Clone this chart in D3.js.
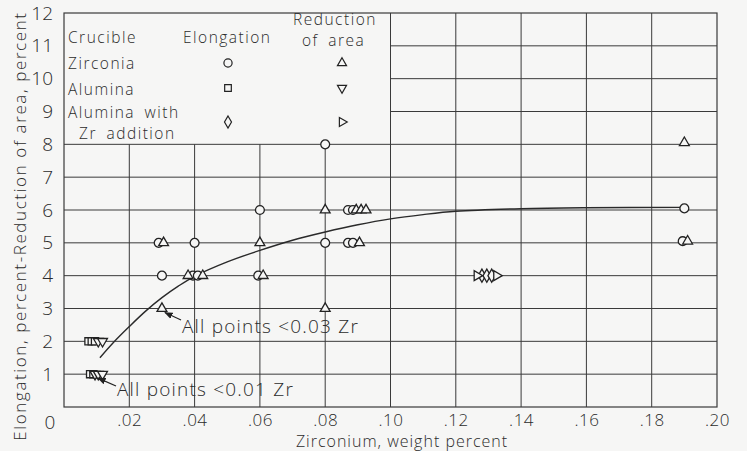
<!DOCTYPE html>
<html>
<head>
<meta charset="utf-8">
<script src="https://cdn.jsdelivr.net/npm/d3@7"></script>
<style>
  body { margin: 0; background: #f6f6f5; }
  text { font-family: "Open Sans", "DejaVu Sans", sans-serif; font-weight: 300; fill: #2b2b2b; }
</style>
</head>
<body>
<script>
// values (x = Zr weight fraction, y = percent)
var xTicks = [0.02, 0.04, 0.06, 0.08, 0.10, 0.12, 0.14, 0.16, 0.18, 0.20];
var yTicks = [1, 2, 3, 4, 5, 6, 7, 8, 9, 10, 11, 12];

var zirconiaElong = [[0.029, 5], [0.04, 5], [0.03, 4], [0.0395, 4], [0.041, 4], [0.06, 6],
    [0.0595, 4], [0.08, 8], [0.08, 5], [0.087, 6], [0.0885, 6], [0.087, 5], [0.0885, 5],
    [0.19, 6.05], [0.1895, 5.05]];
var zirconiaRA = [[0.0305, 5], [0.038, 4], [0.0425, 4], [0.06, 5], [0.061, 4], [0.03, 3],
    [0.08, 6], [0.08, 3], [0.0895, 6], [0.091, 6], [0.0925, 6], [0.0905, 5], [0.19, 8.05], [0.191, 5.05]];
var aluminaElong = [[0.0075, 2], [0.0085, 2], [0.0095, 2], [0.008, 1], [0.009, 1]];
var aluminaRA = [[0.0105, 2], [0.0118, 2], [0.0095, 1], [0.0105, 1], [0.0118, 1]];
var zrAddElong = [[0.128, 4], [0.1295, 4], [0.131, 4]];
var zrAddRA = [[0.1265, 4], [0.1325, 4]];

var curvePts = [[0.011, 1.5], [0.015, 1.95], [0.02, 2.45], [0.025, 2.92], [0.03, 3.33], [0.035, 3.68],
    [0.04, 3.98], [0.05, 4.42], [0.06, 4.77], [0.07, 5.08], [0.08, 5.33], [0.09, 5.55], [0.10, 5.73],
    [0.11, 5.86], [0.12, 5.96], [0.14, 6.04], [0.16, 6.07], [0.19, 6.08]];

var width = 747;
var height = 451;

var svg = d3.select("body").append("svg")
    .attr("width", width)
    .attr("height", height);

var x = d3.scaleLinear().domain([0, 0.2]).range([64, 717]);
var y = d3.scaleLinear().domain([0, 12]).range([407, 13]);

var ink = "#3a3a3a";

/*****************  Grid (blank where the legend sits) **********************/

var grid = svg.append("g").attr("stroke", ink).attr("stroke-width", 1);

grid.selectAll(".vline")
    .data(xTicks.slice(0, 9))
    .enter()
    .append("line")
    .attr("x1", function (d) { return x(d); })
    .attr("x2", function (d) { return x(d); })
    .attr("y1", y(0))
    .attr("y2", function (d) { return d < 0.09 ? y(8) : y(12); });

grid.selectAll(".hline")
    .data(yTicks.slice(0, 11))
    .enter()
    .append("line")
    .attr("y1", function (d) { return y(d); })
    .attr("y2", function (d) { return y(d); })
    .attr("x1", function (d) { return d > 8 ? x(0.10) : x(0); })
    .attr("x2", x(0.2));

svg.append("rect")
    .attr("x", x(0))
    .attr("y", y(12))
    .attr("width", x(0.2) - x(0))
    .attr("height", y(0) - y(12))
    .attr("fill", "none")
    .attr("stroke", ink)
    .attr("stroke-width", 1.2);

/*****************  Axes labels **********************/

var fmtX = function (d) { return d3.format(".2f")(d).replace(/^0/, ""); };

svg.append("g")
    .attr("transform", "translate(0," + y(0) + ")")
    .call(d3.axisBottom(x).tickValues(xTicks).tickSize(0).tickPadding(7).tickFormat(fmtX))
    .call(function (g) { g.select(".domain").remove(); })
    .selectAll("text")
    .attr("font-size", 17)
    .attr("letter-spacing", 0.5)
    .attr("fill", "#2b2b2b")
    .attr("font-family", null);

svg.append("g")
    .attr("transform", "translate(" + x(0) + ",0)")
    .call(d3.axisLeft(y).tickValues(yTicks).tickSize(0).tickPadding(11).tickFormat(d3.format("d")))
    .call(function (g) { g.select(".domain").remove(); })
    .selectAll("text")
    .attr("font-size", 19)
    .attr("fill", "#2b2b2b")
    .attr("font-family", null);

svg.append("text")
    .attr("x", 50)
    .attr("y", 429)
    .attr("text-anchor", "middle")
    .attr("font-size", 19)
    .text("0");

svg.append("text")
    .attr("x", 402)
    .attr("y", 447)
    .attr("text-anchor", "middle")
    .attr("font-size", 16)
    .attr("letter-spacing", 1)
    .text("Zirconium, weight percent");

svg.append("text")
    .attr("transform", "translate(26,226) rotate(-90)")
    .attr("text-anchor", "middle")
    .attr("font-size", 17)
    .attr("letter-spacing", 1.6)
    .text("Elongation, percent-Reduction of area, percent");

/*****************  Fitted curve **********************/

var line = d3.line()
    .x(function (d) { return x(d[0]); })
    .y(function (d) { return y(d[1]); })
    .curve(d3.curveCatmullRom);

svg.append("path")
    .datum(curvePts)
    .attr("d", line)
    .attr("fill", "none")
    .attr("stroke", "#2a2a2a")
    .attr("stroke-width", 1.4);

/*****************  Markers **********************/

var shapes = {
    circle: { type: d3.symbolCircle, size: 62, rot: 0 },
    square: { type: d3.symbolSquare, size: 52, rot: 0 },
    diamond: { type: d3.symbolDiamond, size: 50, rot: 0 },
    up: { type: d3.symbolTriangle, size: 42, rot: 0 },
    down: { type: d3.symbolTriangle, size: 42, rot: 180 },
    right: { type: d3.symbolTriangle, size: 42, rot: 90 }
};

function drawPoints(data, key) {
    var s = shapes[key];
    svg.append("g").selectAll("path")
        .data(data)
        .enter()
        .append("path")
        .attr("d", d3.symbol().type(s.type).size(s.size))
        .attr("transform", function (d) {
            return "translate(" + x(d[0]) + "," + y(d[1]) + ") rotate(" + s.rot + ")";
        })
        .attr("fill", "#f6f6f5")
        .attr("stroke", "#222")
        .attr("stroke-width", 1.3);
}

drawPoints(aluminaElong, "square");
drawPoints(aluminaRA, "down");
drawPoints(zirconiaElong, "circle");
drawPoints(zirconiaRA, "up");
drawPoints(zrAddElong, "diamond");
drawPoints(zrAddRA, "right");

/*****************  Annotations **********************/

svg.append("defs").append("marker")
    .attr("id", "head")
    .attr("viewBox", "0 0 10 10")
    .attr("refX", 9).attr("refY", 5)
    .attr("markerWidth", 7).attr("markerHeight", 7)
    .attr("orient", "auto")
    .append("path")
    .attr("d", "M0,1 L10,5 L0,9 Z")
    .attr("fill", "#222");

var notes = [
    { text: "All points <0.03 Zr", at: [0.03, 3], tx: 182, ty: 333, from: [181, 320] },
    { text: "All points <0.01 Zr", at: [0.0095, 1], tx: 117, ty: 396, from: [116, 386] }
];

notes.forEach(function (n) {
    svg.append("line")
        .attr("x1", n.from[0]).attr("y1", n.from[1])
        .attr("x2", x(n.at[0]) + 3).attr("y2", y(n.at[1]) + 4)
        .attr("stroke", "#222")
        .attr("stroke-width", 1.2)
        .attr("marker-end", "url(#head)");
    svg.append("text")
        .attr("x", n.tx).attr("y", n.ty)
        .attr("font-size", 19)
        .attr("letter-spacing", 1.2)
        .text(n.text);
});

/*****************  Legend **********************/

var legend = svg.append("g");
var lgText = [
    ["Crucible", 68, 43], ["Elongation", 183, 43], ["Reduction", 293, 25], ["of area", 302, 46],
    ["Zirconia", 68, 69], ["Alumina", 68, 95], ["Alumina with", 68, 118], ["Zr addition", 79, 139]
];
lgText.forEach(function (t) {
    legend.append("text")
        .attr("x", t[1]).attr("y", t[2])
        .attr("font-size", 15.5)
        .attr("letter-spacing", 1.5)
        .attr("word-spacing", 4)
        .text(t[0]);
});

var lgRows = [["circle", "up", 63], ["square", "down", 88], ["diamond", "right", 122]];
lgRows.forEach(function (r) {
    [[r[0], 228], [r[1], 342]].forEach(function (c) {
        var s = shapes[c[0]];
        legend.append("path")
            .attr("d", d3.symbol().type(s.type).size(s.size * 0.85))
            .attr("transform", "translate(" + c[1] + "," + r[2] + ") rotate(" + s.rot + ")")
            .attr("fill", "none")
            .attr("stroke", "#222")
            .attr("stroke-width", 1.2);
    });
});
</script>
</body>
</html>
